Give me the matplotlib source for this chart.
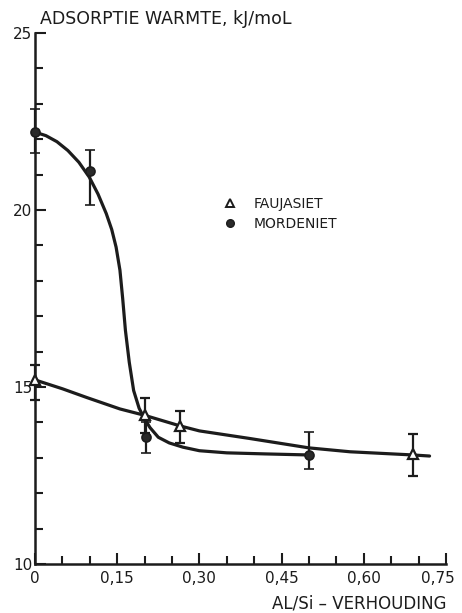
import matplotlib
matplotlib.use("Agg")
import matplotlib.pyplot as plt
import matplotlib.transforms as mtransforms
from matplotlib.ticker import MultipleLocator, FuncFormatter
from matplotlib.lines import Line2D

# measured points (Al/Si ratio, adsorption heat kJ/mol)
fau_x = [0.0, 0.2, 0.265, 0.69]
fau_y = [15.2, 14.2, 13.9, 13.1]
fau_err_lo = [0.57, 0.5, 0.48, 0.6]
fau_err_hi = [0.42, 0.5, 0.42, 0.57]

mor_x = [0.0, 0.1, 0.203, 0.5]
mor_y = [22.2, 21.1, 13.6, 13.08]
mor_err_lo = [0.6, 0.95, 0.47, 0.4]
mor_err_hi = [0.65, 0.6, 0.4, 0.65]

# hand drawn trend curves
fau_curve_x = [0.0, 0.05, 0.095, 0.155, 0.2, 0.265, 0.30, 0.39, 0.50, 0.575, 0.69, 0.72]
fau_curve_y = [15.2, 14.95, 14.7, 14.38, 14.2, 13.9, 13.76, 13.55, 13.28, 13.17, 13.08, 13.05]

mor_curve_x = [0.0, 0.02, 0.04, 0.06, 0.08, 0.099, 0.115, 0.13, 0.14, 0.148, 0.155,
               0.16, 0.165, 0.172, 0.18, 0.19, 0.2, 0.21, 0.225, 0.245, 0.27, 0.30,
               0.35, 0.42, 0.50]
mor_curve_y = [22.2, 22.1, 21.93, 21.68, 21.35, 20.93, 20.45, 19.9, 19.45, 18.95, 18.3,
               17.5, 16.6, 15.7, 14.9, 14.4, 14.1, 13.85, 13.58, 13.42, 13.3, 13.2,
               13.14, 13.11, 13.08]

x_ticks = [0, 0.15, 0.30, 0.45, 0.60, 0.75]
y_ticks = [10, 15, 20, 25]

ink = '#1c1c1c'
plt.rcParams['font.family'] = ['DejaVu Sans']

fig = plt.figure(figsize=(4.62, 6.13), dpi=100)
ax = fig.add_axes([35 / 462, 1 - 564 / 613, 411 / 462, 531 / 613])

# curves
ax.plot(fau_curve_x, fau_curve_y, color=ink, lw=2.3, solid_capstyle='round',
        solid_joinstyle='round', zorder=2, clip_on=False)
ax.plot(mor_curve_x, mor_curve_y, color=ink, lw=2.3, solid_capstyle='round',
        solid_joinstyle='round', zorder=2, clip_on=False)

# error bars + points
eb = ax.errorbar(fau_x, fau_y, yerr=[fau_err_lo, fau_err_hi], fmt='^', ms=7,
                 mfc='white', mec=ink, mew=1.6, ecolor=ink, elinewidth=1.6,
                 capsize=3.8, capthick=1.6, zorder=4)
eb2 = ax.errorbar(mor_x, mor_y, yerr=[mor_err_lo, mor_err_hi], fmt='o', ms=6.5,
                  mfc='#2a2a2a', mec=ink, mew=1.2, ecolor=ink, elinewidth=1.6,
                  capsize=3.8, capthick=1.6, zorder=4)
for container in (eb, eb2):
    for art in container.get_children():
        art.set_clip_on(False)

ax.set_xlim(0, 0.75)
ax.set_ylim(10, 25)

for side in ('top', 'right'):
    ax.spines[side].set_visible(False)
for side in ('left', 'bottom'):
    ax.spines[side].set_linewidth(1.8)
    ax.spines[side].set_color(ink)

ax.xaxis.set_major_locator(plt.FixedLocator(x_ticks))
ax.xaxis.set_minor_locator(MultipleLocator(0.05))
ax.yaxis.set_major_locator(plt.FixedLocator(y_ticks))
ax.yaxis.set_minor_locator(MultipleLocator(1))
ax.xaxis.set_major_formatter(FuncFormatter(lambda v, p: '0' if v == 0 else f'{v:.2f}'.replace('.', ',')))
ax.yaxis.set_major_formatter(FuncFormatter(lambda v, p: f'{v:.0f}'))

ax.tick_params(which='major', direction='in', length=8, width=1.5, color=ink,
               labelsize=11, labelcolor=ink)
ax.tick_params(which='minor', direction='in', length=6, width=1.5, color=ink)
ax.tick_params(axis='x', which='major', pad=5)
ax.tick_params(axis='y', which='major', pad=2)

# last x label sits a little left of its tick, as in the original
fig.canvas.draw()
last = ax.get_xticklabels()[-1]
last.set_transform(last.get_transform() + mtransforms.ScaledTranslation(-6 / 72, 0, fig.dpi_scale_trans))

# axis titles
fig.text(40 / 462, 1 - 19 / 613, 'ADSORPTIE WARMTE, kJ/moL', ha='left', va='center',
         fontsize=12.5, color=ink)
fig.text(446 / 462, 1 - 603 / 613, 'AL/Si – VERHOUDING', ha='right', va='center',
         fontsize=12, color=ink)

# legend
handles = [
    Line2D([], [], ls='none', marker='^', ms=5.5, mfc='white', mec=ink, mew=1.4),
    Line2D([], [], ls='none', marker='o', ms=5.5, mfc='#2a2a2a', mec=ink, mew=1.0),
]
ax.legend(handles, ['FAUJASIET', 'MORDENIET'], loc='center left',
          bbox_to_anchor=(223 / 462, 1 - 214 / 613), bbox_transform=fig.transFigure,
          frameon=False, fontsize=10, handlelength=1.0, handletextpad=1.2,
          labelspacing=0.45, borderpad=0, borderaxespad=0, labelcolor=ink)

fig.savefig('out.png', dpi=100)
